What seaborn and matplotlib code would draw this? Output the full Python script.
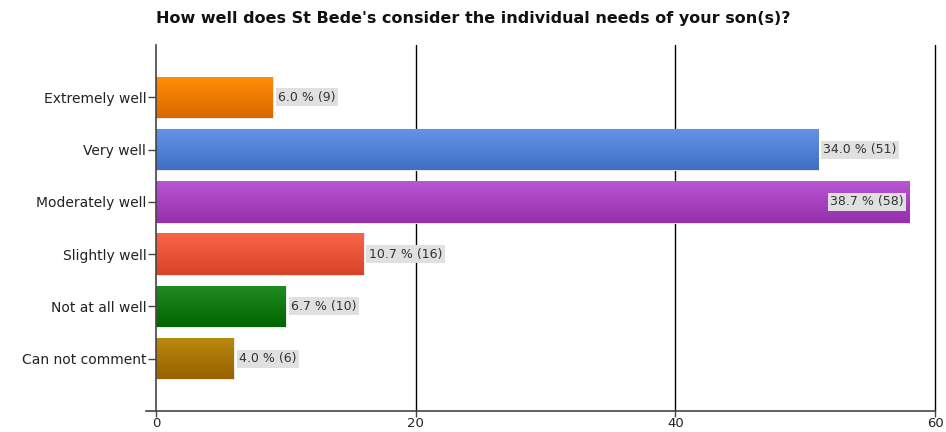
import numpy as np
import pandas as pd
import matplotlib.pyplot as plt
import matplotlib.colors as mcolors
import seaborn as sns

# Survey answers
categories = ['Extremely well', 'Very well', 'Moderately well', 'Slightly well',
              'Not at all well', 'Can not comment']
counts = [9, 51, 58, 16, 10, 6]
percents = [6.0, 34.0, 38.7, 10.7, 6.7, 4.0]
# top / bottom shade of each bar
top_colors = ['#ff8e06', '#6594e6', '#b956d3', '#f9654a', '#228c22', '#ba8a0e']
bottom_colors = ['#db6800', '#3e6fc6', '#952fab', '#d74428', '#006600', '#976200']

df = pd.DataFrame({'answer': categories, 'count': counts, 'pct': percents})

sns.set_style('white')
plt.rcParams['font.family'] = ['DejaVu Sans']

fig = plt.figure(figsize=(9.46, 4.32), dpi=100)
ax = fig.add_axes([156 / 946, 1 - 411 / 432, (935 - 156) / 946, (411 - 45) / 432])

sns.barplot(data=df, y='answer', x='count', hue='answer', palette=top_colors,
            orient='h', width=0.79, legend=False, ax=ax, saturation=1,
            edgecolor='#e8e8e8', linewidth=0.8)

ax.set_xlim(0, 60)
ax.set_ylim(6, -1)

# vertical gradient inside each bar
grad = np.linspace(0, 1, 64).reshape(-1, 1)
for patch, c1, c2 in zip(ax.patches, top_colors, bottom_colors):
    cmap = mcolors.LinearSegmentedColormap.from_list('g', [c1, c2])
    x0, y0 = patch.get_x(), patch.get_y()
    w, h = patch.get_width(), patch.get_height()
    im = ax.imshow(grad, cmap=cmap, aspect='auto', extent=(x0, x0 + w, y0 + h, y0),
                   zorder=patch.get_zorder() + 0.1, interpolation='bilinear')
    im.set_clip_path(patch)
ax.set_xlim(0, 60)
ax.set_ylim(6, -1)
ax.set_xticks([0, 20, 40, 60])
for x in [20, 40, 60]:
    ax.axvline(x, color='black', lw=1, zorder=0, clip_on=False)

# value labels
for i, (c, p) in enumerate(zip(counts, percents)):
    label = f'{p:.1f} % ({c})'
    box = dict(boxstyle='square,pad=0.2', fc='#e0e0e0', ec='none')
    if c > 55:
        ax.text(c - 0.4, i, label, ha='right', va='center', fontsize=9,
                color='#333333', bbox=box, zorder=5)
    else:
        ax.text(c + 0.4, i, label, ha='left', va='center', fontsize=9,
                color='#333333', bbox=box, zorder=5)

for s in ['top', 'right']:
    ax.spines[s].set_visible(False)
for s in ['left', 'bottom']:
    ax.spines[s].set_color('#444444')
    ax.spines[s].set_linewidth(1.2)
ax.spines['bottom'].set_bounds(-0.8, 60)
ax.tick_params(axis='y', direction='out', length=6, width=1, color='#444444',
               labelsize=10, labelcolor='#222222', left=True, pad=1)
ax.tick_params(axis='x', direction='out', length=4, width=1, color='#444444',
               labelsize=9.5, labelcolor='#222222', bottom=True, pad=0.5)
ax.set_xlabel('')
ax.set_ylabel('')
fig.text(0.5, 1 - 18 / 432, "How well does St Bede's consider the individual needs of your son(s)?",
         ha='center', va='center', fontsize=11.5, fontweight='bold', color='#111111')

plt.savefig('out.png', dpi=100)
